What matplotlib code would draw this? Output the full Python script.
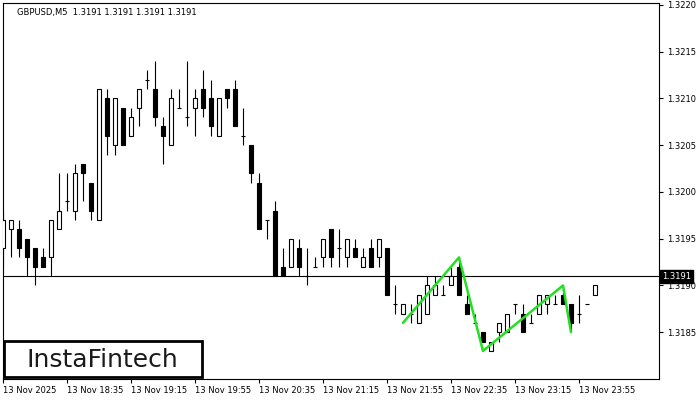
import matplotlib
matplotlib.use('Agg')
import matplotlib.pyplot as plt
from matplotlib.patches import Rectangle
from matplotlib.transforms import blended_transform_factory

# ------------------------------------------------------------
# GBPUSD M5 bars, one entry per bar
# ------------------------------------------------------------
opens = [1.3194, 1.3196, 1.3196, 1.3195, 1.3194, 1.3193, 1.3193, 1.3196, 1.3199, 1.3198,
         1.3203, 1.3201, 1.3197, 1.3210, 1.3205, 1.3209, 1.3206, 1.3209, 1.3212, 1.3211,
         1.3207, 1.3205, 1.3209, 1.3208, 1.3209, 1.3211, 1.3210, 1.3206, 1.3211, 1.3211,
         1.3206, 1.3205, 1.3201, 1.3197, 1.3198, 1.3192, 1.3192, 1.3194, 1.3191, 1.3192,
         1.3193, 1.3196, 1.3194, 1.3193, 1.3194, 1.3192, 1.3194, 1.3193, 1.3194, 1.3188,
         1.3187, 1.3187, 1.3186, 1.3187, 1.3189, 1.3189, 1.3190, 1.3192, 1.3188, 1.3186,
         1.3185, 1.3183, 1.3185, 1.3185, 1.3188, 1.3187, 1.3186, 1.3187, 1.3188, 1.3188,
         1.3189, 1.3188, 1.3187, 1.3188, 1.3189]
highs = [1.3198, 1.3197, 1.3197, 1.3195, 1.3194, 1.3194, 1.3197, 1.3202, 1.3202, 1.3203,
         1.3203, 1.3201, 1.3211, 1.3211, 1.3210, 1.3209, 1.3209, 1.3211, 1.3213, 1.3214,
         1.3208, 1.3211, 1.3211, 1.3214, 1.3211, 1.3213, 1.3212, 1.3210, 1.3211, 1.3212,
         1.3209, 1.3205, 1.3202, 1.3197, 1.3199, 1.3194, 1.3195, 1.3195, 1.3194, 1.3193,
         1.3195, 1.3196, 1.3196, 1.3195, 1.3195, 1.3194, 1.3195, 1.3195, 1.3194, 1.3190,
         1.3188, 1.3188, 1.3189, 1.3191, 1.3191, 1.3190, 1.3192, 1.3193, 1.3189, 1.3187,
         1.3185, 1.3184, 1.3186, 1.3187, 1.3188, 1.3188, 1.3187, 1.3189, 1.3189, 1.3189,
         1.3190, 1.3188, 1.3189, 1.3188, 1.3190]
lows = [1.3192, 1.3193, 1.3193, 1.3191, 1.3190, 1.3192, 1.3191, 1.3196, 1.3198, 1.3197,
        1.3199, 1.3197, 1.3197, 1.3204, 1.3204, 1.3205, 1.3206, 1.3207, 1.3211, 1.3207,
        1.3203, 1.3205, 1.3209, 1.3207, 1.3206, 1.3208, 1.3206, 1.3206, 1.3209, 1.3207,
        1.3205, 1.3201, 1.3196, 1.3195, 1.3191, 1.3191, 1.3192, 1.3191, 1.3190, 1.3192,
        1.3192, 1.3192, 1.3192, 1.3192, 1.3193, 1.3192, 1.3192, 1.3192, 1.3189, 1.3187,
        1.3187, 1.3186, 1.3186, 1.3187, 1.3189, 1.3189, 1.3190, 1.3189, 1.3187, 1.3186,
        1.3184, 1.3183, 1.3184, 1.3185, 1.3187, 1.3185, 1.3186, 1.3187, 1.3187, 1.3188,
        1.3188, 1.3185, 1.3186, 1.3188, 1.3189]
closes = [1.3197, 1.3197, 1.3194, 1.3193, 1.3192, 1.3192, 1.3197, 1.3198, 1.3199, 1.3202,
          1.3202, 1.3198, 1.3211, 1.3206, 1.3210, 1.3205, 1.3208, 1.3211, 1.3212, 1.3208,
          1.3206, 1.3210, 1.3209, 1.3208, 1.3210, 1.3209, 1.3207, 1.3210, 1.3210, 1.3207,
          1.3206, 1.3202, 1.3196, 1.3197, 1.3191, 1.3191, 1.3195, 1.3192, 1.3191, 1.3192,
          1.3195, 1.3193, 1.3194, 1.3195, 1.3193, 1.3193, 1.3192, 1.3195, 1.3189, 1.3188,
          1.3188, 1.3187, 1.3189, 1.3190, 1.3190, 1.3189, 1.3191, 1.3189, 1.3187, 1.3186,
          1.3184, 1.3184, 1.3186, 1.3187, 1.3188, 1.3185, 1.3186, 1.3189, 1.3189, 1.3188,
          1.3188, 1.3186, 1.3187, 1.3188, 1.3190]

# pattern (green zigzag): bar index and price of each vertex
pattern_bars = [50, 57, 60, 70, 71]
pattern_prices = [1.3186, 1.3193, 1.3183, 1.3190, 1.3185]

current_price = 1.3191
price_ticks = [1.3185, 1.3190, 1.3195, 1.3200, 1.3205, 1.3210, 1.3215, 1.3220]
time_tick_bars = [0, 8, 16, 24, 32, 40, 48, 56, 64, 72]
time_tick_labels = ['13 Nov 2025', '13 Nov 18:35', '13 Nov 19:15', '13 Nov 19:55',
                    '13 Nov 20:35', '13 Nov 21:15', '13 Nov 21:55', '13 Nov 22:35',
                    '13 Nov 23:15', '13 Nov 23:55']

plt.rcParams['font.family'] = ['DejaVu Sans']

fig = plt.figure(figsize=(7, 4), dpi=100)
ax = fig.add_axes([3 / 700, 21 / 400, 656 / 700, 376 / 400])

# ============================================================
# Candles
# ============================================================
body_w = 0.56
for i, (o, h, l, c) in enumerate(zip(opens, highs, lows, closes)):
    ax.vlines(i, l, h, color='black', linewidth=0.8, zorder=2)
    if o == c:
        ax.hlines(o, i - body_w / 2, i + body_w / 2, color='black', linewidth=0.8, zorder=3)
    else:
        fill = 'white' if c > o else 'black'
        ax.add_patch(Rectangle((i - body_w / 2, min(o, c)), body_w, abs(c - o),
                               facecolor=fill, edgecolor='black', linewidth=0.8, zorder=3))

ax.axhline(current_price, color='black', linewidth=0.8, zorder=1)
ax.plot(pattern_bars, pattern_prices, color='#22e022', linewidth=1.8, zorder=4,
        solid_capstyle='round')

ax.set_xlim(0, 82)
ax.set_ylim(1.3180, 1.32202)

# ============================================================
# Axes styling (MT4 look)
# ============================================================
for sp in ax.spines.values():
    sp.set_linewidth(0.8)
    sp.set_color('black')

ax.yaxis.tick_right()
ax.set_yticks(price_ticks)
ax.set_yticklabels([f'{p:.4f}' for p in price_ticks])
ax.tick_params(axis='y', direction='out', length=3, width=0.8, pad=3, labelsize=6)
ax.set_xticks(time_tick_bars)
ax.set_xticklabels(time_tick_labels, ha='left')
ax.tick_params(axis='x', direction='out', length=3, width=0.8, pad=2, labelsize=6)

trans = blended_transform_factory(ax.transAxes, ax.transData)
ax.text(1.005, current_price, f'{current_price:.4f}', transform=trans, color='white',
        fontsize=6, va='center', ha='left', zorder=6,
        bbox=dict(boxstyle='square,pad=0.25', facecolor='black', edgecolor='black'))

fig.text(17 / 700, 1 - 12 / 400, 'GBPUSD,M5  1.3191 1.3191 1.3191 1.3191',
         fontsize=6, va='center', ha='left')

# logo box
fig.patches.append(Rectangle((4 / 700, 23 / 400), 198 / 700, 36 / 400,
                             transform=fig.transFigure, facecolor='white',
                             edgecolor='black', linewidth=2, zorder=5))
fig.text(102 / 700, 1 - 360 / 400, 'InstaFintech', fontsize=18, color='#1a1a1a',
         ha='center', va='center', zorder=6)

fig.savefig('out.png', dpi=100)
